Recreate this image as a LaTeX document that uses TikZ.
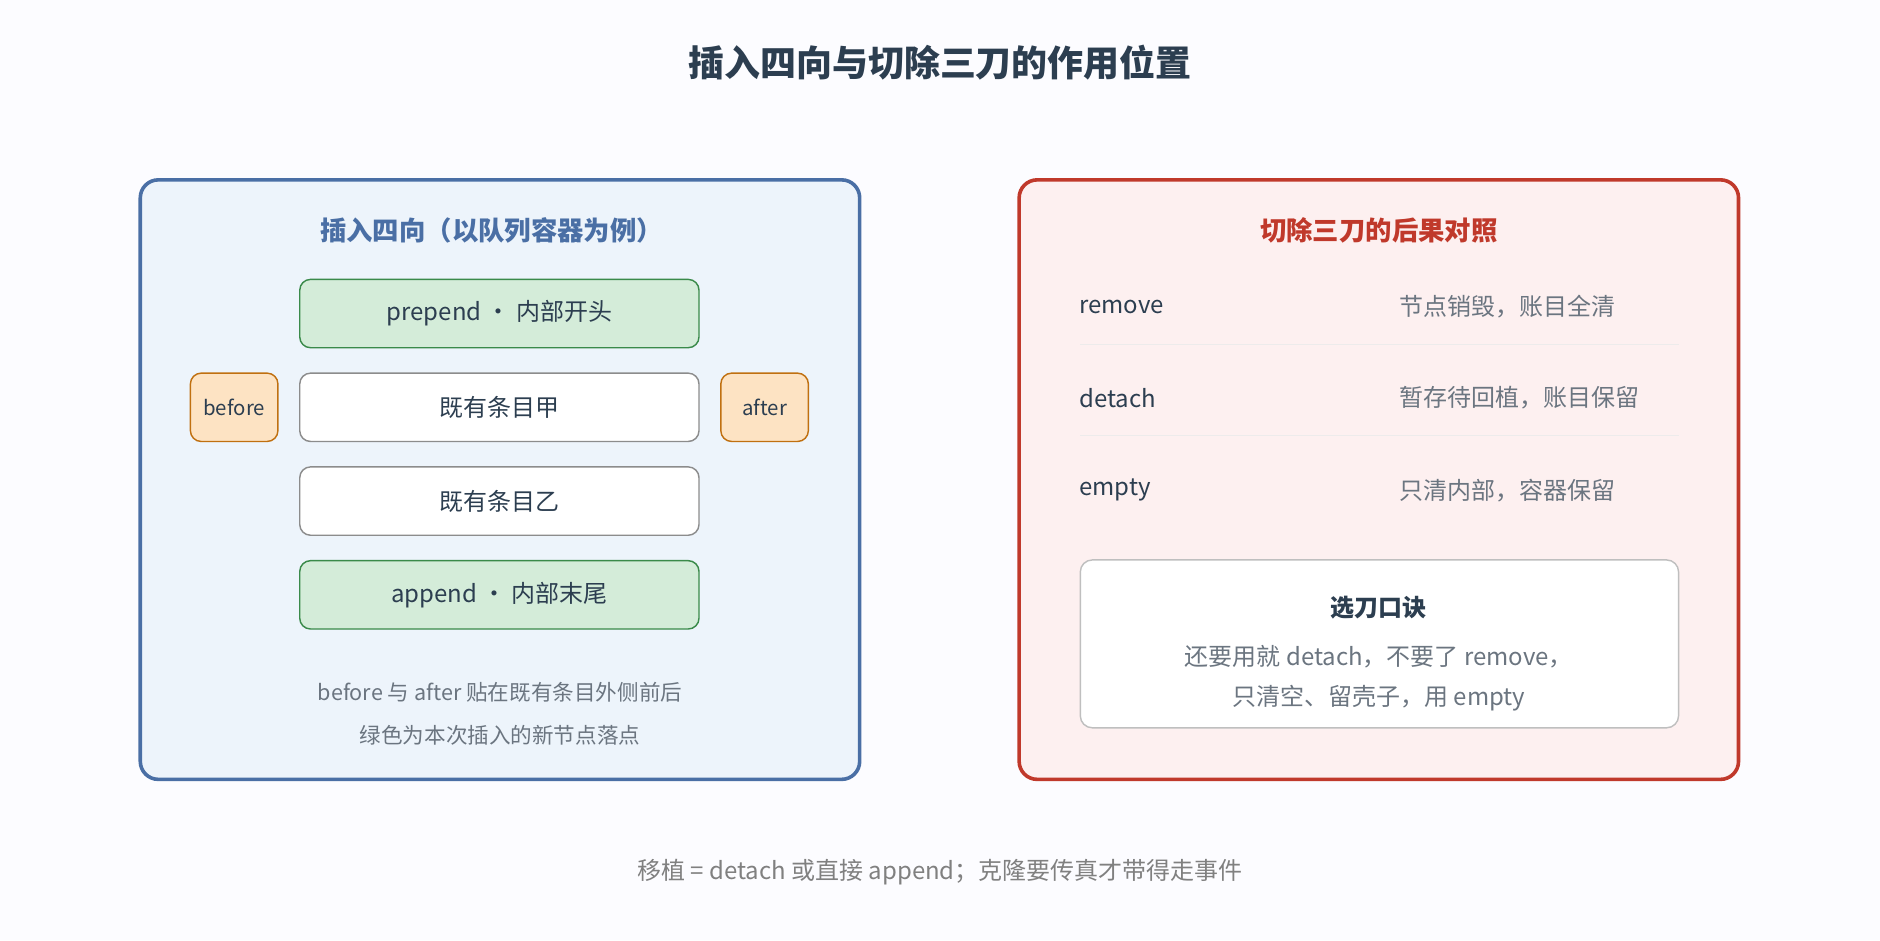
\documentclass[tikz,border=0pt]{standalone}
\usepackage{fontspec}
\setmainfont{Noto Sans CJK SC}
\usetikzlibrary{positioning}
\definecolor{ink}{HTML}{2C3E50}
\definecolor{blueline}{HTML}{4A6FA5}
\definecolor{bluefill}{HTML}{EDF4FB}
\definecolor{redline}{HTML}{C0392B}
\definecolor{redfill}{HTML}{FDF0F0}
\definecolor{greenfill}{HTML}{D4ECD9}
\definecolor{greenline}{HTML}{3A8A4A}
\definecolor{orangefill}{HTML}{FDE3C3}
\definecolor{orangeline}{HTML}{C07010}
\definecolor{greytext}{HTML}{6B7580}
\tikzset{
  panel/.style={draw, line width=1.5pt, rounded corners=7.5pt},
  item/.style={draw=gray!90, line width=0.6pt, fill=white, rounded corners=4.5pt,
    minimum width=166.5pt, minimum height=28.5pt, text=ink, font=\fontsize{10}{12}\selectfont},
  newitem/.style={item, draw=greenline, fill=greenfill},
  side/.style={item, draw=orangeline, fill=orangefill, minimum width=36.5pt, font=\fontsize{8.5}{10}\selectfont},
  note/.style={text=greytext, font=\fontsize{9}{11}\selectfont},
  cut/.style={anchor=west, text=ink, font=\fontsize{10}{12}\selectfont},
  effect/.style={anchor=west, text=greytext, font=\fontsize{10}{12}\selectfont}
}
\begin{document}
\begin{tikzpicture}[x=0.5pt, y=-0.5pt]
\useasboundingbox[fill=blue!1!white] (0,0) rectangle (1568,784);

% Title
\node[text=ink, font=\fontsize{15}{18}\selectfont\bfseries] (title) at (784,52) {插入四向与切除三刀的作用位置};

% Left panel: insertion
\draw[panel, draw=blueline, fill=bluefill] (117,150) rectangle (717,650);
\node[text=blueline, font=\fontsize{11}{13}\selectfont\bfseries] (ltitle) at (410,192) {插入四向（以队列容器为例）};
\node[newitem] (prepend) at (416.5,261.5) {prepend · 内部开头};
\node[item, below=10pt of prepend] (itemA) {既有条目甲};
\node[item, below=10pt of itemA] (itemB) {既有条目乙};
\node[newitem, below=10pt of itemB] (append) {append · 内部末尾};
\node[side, left=8.5pt of itemA] (before) {before};
\node[side, right=8.5pt of itemA] (after) {after};
\node[note] (note1) at (417,577) {before 与 after 贴在既有条目外侧前后};
\node[note] (note2) at (417,613) {绿色为本次插入的新节点落点};

% Right panel: cutting
\draw[panel, draw=redline, fill=redfill] (850,150) rectangle (1450,650);
\node[text=redline, font=\fontsize{11}{13}\selectfont\bfseries] (rtitle) at (1150,192) {切除三刀的后果对照};
\node[cut] (remove) at (893,256) {remove};
\node[effect] (removeE) at (1160,256) {节点销毁，账目全清};
\node[cut] (detach) at (893,332) {detach};
\node[effect] (detachE) at (1160,332) {暂存待回植，账目保留};
\node[cut] (empty) at (893,409) {empty};
\node[effect] (emptyE) at (1160,409) {只清内部，容器保留};
\draw[red!6!gray!15, line width=0.5pt] (901,287) -- (1400,287);
\draw[red!6!gray!15, line width=0.5pt] (901,363) -- (1400,363);

% Rule of thumb
\draw[draw=gray!50, fill=white, line width=0.6pt, rounded corners=5pt] (901,467) rectangle (1400,607);
\node[text=ink, font=\fontsize{10}{12}\selectfont\bfseries] (tip) at (1150,507) {选刀口诀};
\node[note, font=\fontsize{10}{12}\selectfont] (tip1) at (1150,548) {还要用就 detach，不要了 remove，};
\node[note, font=\fontsize{10}{12}\selectfont] (tip2) at (1150,582) {只清空、留壳子，用 empty};

% Footer
\node[text=gray, font=\fontsize{10}{12}\selectfont] (footer) at (784,727) {移植 = detach 或直接 append；克隆要传真才带得走事件};
\end{tikzpicture}
\end{document}
